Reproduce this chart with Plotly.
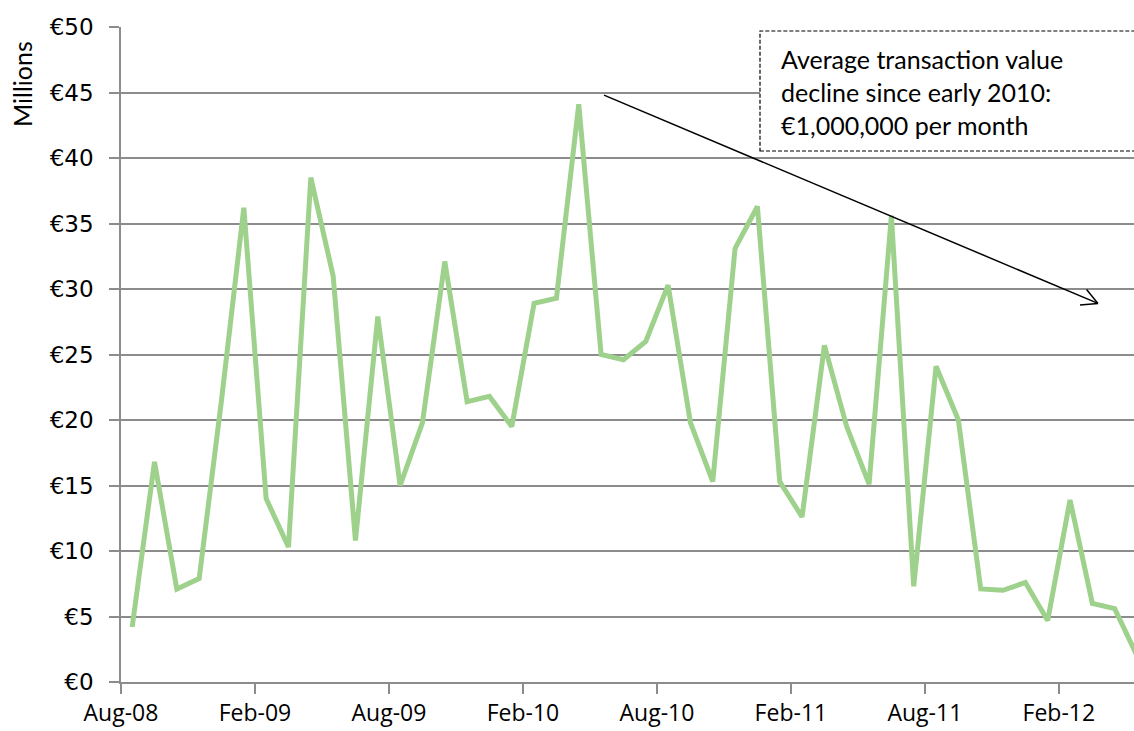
import numpy as np
import pandas as pd
import plotly.graph_objects as go

# ---- data ----
values = [4.2, 16.8, 7.1, 7.9, 21.5, 36.2, 14.0, 10.3, 38.5, 31.0,
          10.8, 27.9, 15.0, 19.8, 32.1, 21.4, 21.8, 19.5, 28.9, 29.3,
          44.1, 25.0, 24.6, 26.0, 30.3, 19.8, 15.3, 33.1, 36.3, 15.3,
          12.6, 25.7, 19.5, 15.1, 35.6, 7.3, 24.1, 20.0, 7.1, 7.0,
          7.6, 4.7, 13.9, 6.0, 5.6, 2.0]
months = pd.date_range("2008-08-01", periods=len(values), freq="MS")
x_tick_labels = ["Aug-08", "Feb-09", "Aug-09", "Feb-10", "Aug-10", "Feb-11", "Aug-11", "Feb-12"]
x_tick_months = [0, 6, 12, 18, 24, 30, 36, 42]
y_tick_values = [0, 5, 10, 15, 20, 25, 30, 35, 40, 45, 50]
y_tick_labels = ["€0", "€5", "€10", "€15", "€20", "€25", "€30", "€35", "€40", "€45", "€50"]
note_lines = ["Average transaction value", "decline since early 2010:", "€1,000,000 per month"]
arrow_start = (21.63, 44.8)   # (month index, € millions)
arrow_end = (43.75, 28.9)

# ---- layout geometry ----
W, H = 1134, 731
ML, MR, MT, MB = 121, 0, 27, 49
plot_w = W - ML - MR
plot_h = H - MT - MB
px_per_month = 22.33
x_range = [0, plot_w / px_per_month]
y_range = [0, 50]
px_per_unit_y = plot_h / (y_range[1] - y_range[0])


def px_to_y(py):
    return y_range[1] - (py - MT) / px_per_unit_y


def px_to_x(px):
    return x_range[0] + (px - ML) / px_per_month


# category positions: points sit between ticks
x_pos = np.arange(len(values)) + 0.5

fig = go.Figure()
fig.add_trace(go.Scatter(
    x=x_pos, y=values, mode="lines",
    line=dict(color="#9ed18b", width=5),
    hoverinfo="skip", showlegend=False,
    customdata=months.strftime("%b-%y"),
))

# arrow (shaft + open head)
sx, sy = arrow_start
ex, ey = arrow_end
dxp = (ex - sx) * px_per_month
dyp = (ey - sy) * px_per_unit_y
ang = np.arctan2(dyp, dxp)
head_len = 18
head_x, head_y = [], []
for da in (np.radians(28), -np.radians(28)):
    a = ang + np.pi + da
    head_x += [ex + head_len * np.cos(a) / px_per_month, ex, None]
    head_y += [ey + head_len * np.sin(a) / px_per_unit_y, ey, None]
fig.add_trace(go.Scatter(x=[sx, ex], y=[sy, ey], mode="lines",
                         line=dict(color="black", width=1.5),
                         hoverinfo="skip", showlegend=False))
fig.add_trace(go.Scatter(x=head_x, y=head_y, mode="lines",
                         line=dict(color="black", width=1.5),
                         hoverinfo="skip", showlegend=False))

# dashed note box
box_x0 = px_to_x(760)
box_x1 = x_range[1] + 2
box_y1 = px_to_y(31)
box_y0 = px_to_y(151)
fig.add_shape(type="rect", xref="x", yref="y",
              x0=box_x0, x1=box_x1, y0=box_y0, y1=box_y1,
              line=dict(color="black", width=1.2, dash="4px,2px"),
              fillcolor="white", layer="above")

line_centers_px = [59, 92, 125]
for txt, cy in zip(note_lines, line_centers_px):
    fig.add_annotation(
        xref="x", yref="y", x=px_to_x(779), y=px_to_y(cy),
        text=txt, showarrow=False, xanchor="left", yanchor="middle",
        align="left", font=dict(family="Lato", size=25, color="black"),
    )

fig.add_annotation(
    xref="paper", yref="paper", x=-(ML - 22) / plot_w, y=1 - (84 - MT) / plot_h,
    text="Millions", textangle=-90, showarrow=False,
    xanchor="center", yanchor="middle",
    font=dict(family="Lato", size=25, color="black"),
)

grid_col = "#8c8c8c"
fig.update_layout(
    width=W, height=H,
    margin=dict(l=ML, r=MR, t=MT, b=MB, pad=0, autoexpand=False),
    paper_bgcolor="white", plot_bgcolor="white",
    xaxis=dict(range=x_range, tickmode="array", tickvals=x_tick_months,
               ticktext=x_tick_labels, ticks="outside", ticklen=10, tickwidth=1.5,
               tickcolor=grid_col, showgrid=False, showline=True, linecolor=grid_col,
               linewidth=1.5, zeroline=False, automargin=False,
               tickfont=dict(family="Open Sans", size=23, color="black"),
               ticklabelstandoff=0),
    yaxis=dict(range=y_range, tickmode="array", tickvals=y_tick_values,
               ticktext=y_tick_labels, ticks="outside", ticklen=10, tickwidth=1.5,
               tickcolor=grid_col, showgrid=True, gridcolor=grid_col, gridwidth=1.5,
               showline=True, linecolor=grid_col, linewidth=1.5, zeroline=False,
               automargin=False,
               tickfont=dict(family="DejaVu Sans", size=23, color="black"),
               ticklabelstandoff=11),
)

fig.write_html(
    "out.html",
    config={"displayModeBar": False},
    post_script="document.body.style.margin='0';document.body.style.overflow='hidden';",
)
